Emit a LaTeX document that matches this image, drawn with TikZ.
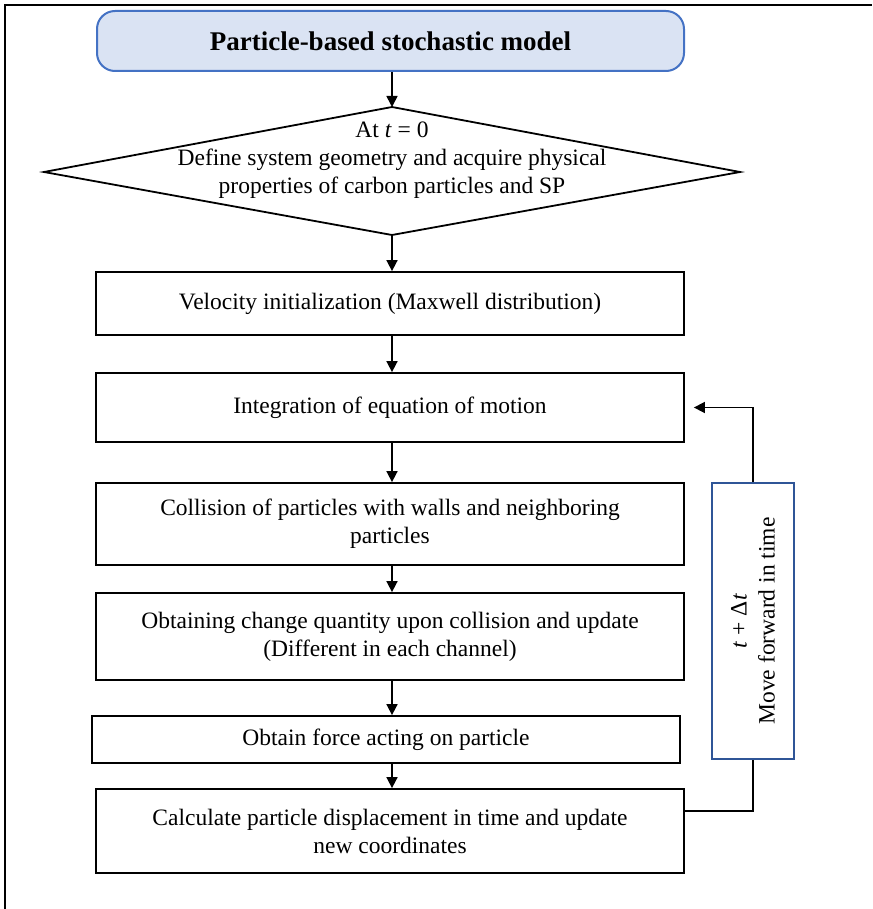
\documentclass[tikz,border=0pt]{standalone}
\usepackage{fontspec}
\setmainfont{Liberation Serif}
\usetikzlibrary{arrows.meta,calc}
\definecolor{titlefill}{HTML}{DAE3F3}
\definecolor{titleedge}{HTML}{4472C4}
\definecolor{loopedge}{HTML}{2F5597}

\begin{document}
\begin{tikzpicture}[x=1pt,y=-1pt,
  every node/.style={inner sep=0pt, font=\fontsize{23.5}{28}\selectfont},
  stepbox/.style={draw, line width=1.8pt, minimum width=588pt, align=center},
  flow/.style={line width=1.7pt, -{Triangle[length=11pt,width=11pt]}},
  link/.style={line width=1.7pt}]

\useasboundingbox (0,0) rectangle (872,909);

% frame lines along the top and left
\draw[line width=2.5pt] (5,909) -- (5,5) -- (872,5);

% title
\node[draw=titleedge, fill=titlefill, line width=2pt, rounded corners=18pt,
      minimum width=587pt, minimum height=60pt,
      font=\fontsize{27}{32}\selectfont\bfseries] (title) at (390.5,41)
      {Particle-based stochastic model};

% initial condition diamond
\coordinate (dtop) at (392,107);
\coordinate (dbot) at (392,235);
\coordinate (dleft) at (44,172);
\coordinate (dright) at (740,172);
\draw[line width=1.8pt, line join=miter] (dleft) -- (dtop) -- (dright) -- (dbot) -- cycle;
\node[align=center] (init) at (392,160)
  {At \textit{t} = 0\\Define system geometry and acquire physical\\properties of carbon particles and SP};

% process steps
\node[stepbox, minimum height=63pt] (vel) at (390,303.5)
  {Velocity initialization (Maxwell distribution)};
\node[stepbox, minimum height=69pt] (integ) at (390,407.5)
  {Integration of equation of motion};
\node[stepbox, minimum height=82pt] (coll) at (390,524)
  {Collision of particles with walls and neighboring\\particles};
\node[stepbox, minimum height=87pt] (chg) at (390,636.5)
  {Obtaining change quantity upon collision and update\\(Different in each channel)};
\node[stepbox, minimum height=47pt] (force) at (386,739.5)
  {Obtain force acting on particle};
\node[stepbox, minimum height=84pt] (calc) at (390,831)
  {Calculate particle displacement in time and update\\new coordinates};

% time-step box
\node[draw=loopedge, line width=2pt, rotate=90, minimum width=276pt,
      minimum height=82pt, align=center] (loop) at (753,621)
  {\textit{t} + Δ\textit{t}\\Move forward in time};

% main flow
\draw[flow] (title.south -| dtop) -- (dtop);
\draw[flow] (dbot) -- (dbot |- vel.north);
\draw[flow] (dbot |- vel.south) -- (dbot |- integ.north);
\draw[flow] (dbot |- integ.south) -- (dbot |- coll.north);
\draw[flow] (dbot |- coll.south) -- (dbot |- chg.north);
\draw[flow] (dbot |- chg.south) -- (dbot |- force.north);
\draw[flow] (dbot |- force.south) -- (dbot |- calc.north);

% feedback loop
\draw[link] ($(calc.north east)!0.27!(calc.south east)$) -| (loop.west);
\draw[flow, shorten >=9pt] (loop.east) |- (integ.east);
\end{tikzpicture}
\end{document}
